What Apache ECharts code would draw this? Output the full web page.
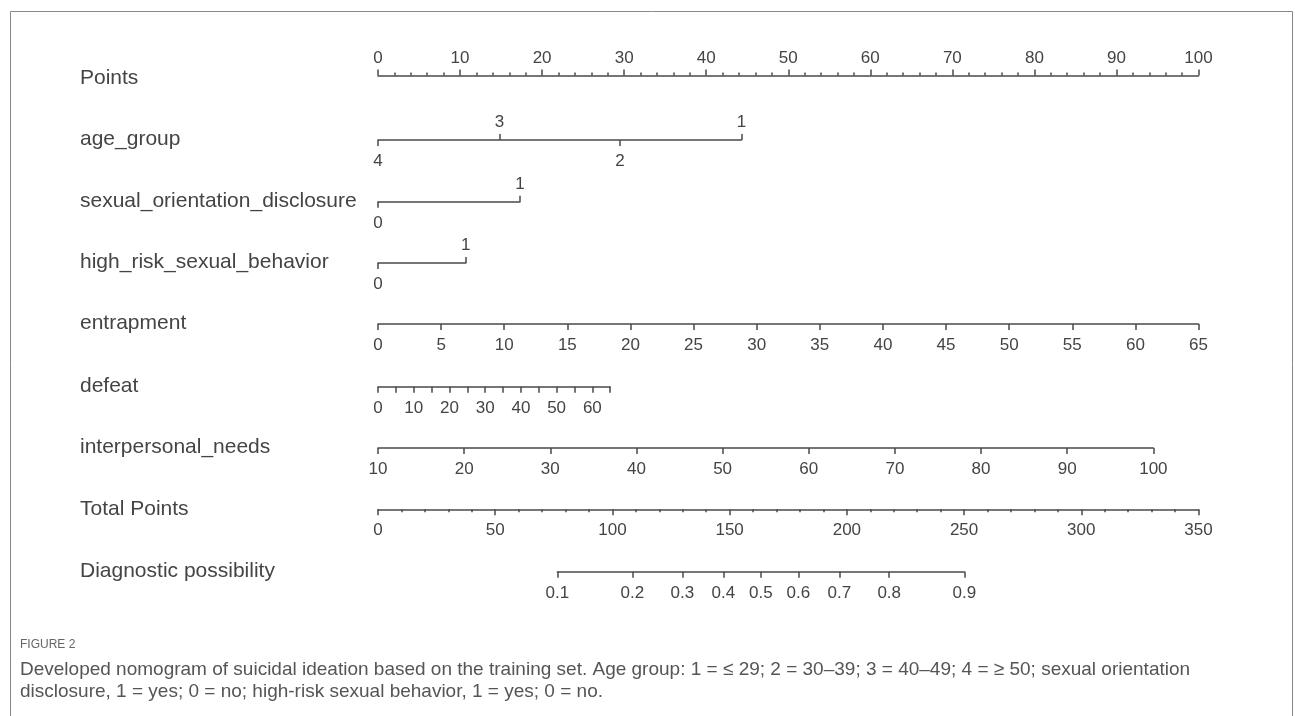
<!DOCTYPE html>
<html>
<head>
<meta charset="utf-8">
<script src="https://cdn.jsdelivr.net/npm/echarts@6/dist/echarts.min.js"></script>
<style>
  html, body { margin: 0; padding: 0; background: #fff; }
  #chart { width: 1295px; height: 716px; }
</style>
</head>
<body>
<div id="chart"></div>
<script>
// row names, top to bottom
var rowNames = ['Points', 'age_group', 'sexual_orientation_disclosure', 'high_risk_sexual_behavior',
    'entrapment', 'defeat', 'interpersonal_needs', 'Total Points', 'Diagnostic possibility'];

// categorical variables: label and its points
var ageLabels = ['4', '3', '2', '1'];
var agePoints = [0, 14.8, 29.5, 44.3];
var disclosureLabels = ['0', '1'];
var disclosurePoints = [0, 17.3];
var riskLabels = ['0', '1'];
var riskPoints = [0, 10.7];

// continuous variables: [min, max] and points reached at max
var entrapmentRange = [0, 65];
var entrapmentMaxPoints = 100;
var defeatRange = [0, 65];
var defeatMaxPoints = 28.3;
var defeatLabels = [0, 10, 20, 30, 40, 50, 60];
var needsRange = [10, 100];
var needsMaxPoints = 94.5;

var totalRange = [0, 350];
var probTicks = [0.1, 0.2, 0.3, 0.4, 0.5, 0.6, 0.7, 0.8, 0.9];
var probTotalPoints = [76.5, 250.1];   // total points at 0.1 and 0.9

// layout
var X0 = 378, X1 = 1198.5;
var rowY = [75.5, 140, 201.7, 263, 324, 386.7, 448, 509.3, 571.7];
var lineColor = '#4a4a4a';
var textColor = '#444';
var font = 'Liberation Sans, Arial, sans-serif';

function ptsX(p) { return X0 + p / 100 * (X1 - X0); }
function totX(t) { return X0 + t / totalRange[1] * (X1 - X0); }
function logit(p) { return Math.log(p / (1 - p)); }

var grids = [], xAxes = [], yAxes = [];

function addGrid(x0, x1, y) {
    grids.push({ left: x0, width: x1 - x0, top: y, height: 0 });
    yAxes.push({ gridIndex: grids.length - 1, show: false });
    return grids.length - 1;
}

function axis(gi, o) {
    var a = {
        gridIndex: gi, type: 'value', position: o.position || 'bottom',
        min: o.min, max: o.max,
        splitLine: { show: false },
        axisLine: { show: o.line !== false, lineStyle: { color: lineColor, width: 1.5 } },
        axisTick: { show: true, inside: false, length: o.tickLen || 6, lineStyle: { color: lineColor, width: 1.5 } },
        axisLabel: { color: textColor, fontSize: 17, fontFamily: font, margin: o.margin || 13,
            showMinLabel: true, showMaxLabel: true }
    };
    if (o.interval) a.interval = o.interval;
    if (o.ticks) a.axisTick.customValues = o.ticks;
    if (o.labels) a.axisLabel.customValues = o.labels;
    if (o.formatter) a.axisLabel.formatter = o.formatter;
    if (o.minor) a.minorTick = { show: true, splitNumber: o.minor, length: 3, lineStyle: { color: lineColor, width: 1.5 } };
    xAxes.push(a);
}

// Points
var g = addGrid(ptsX(0), ptsX(100), rowY[0]);
axis(g, { position: 'top', min: 0, max: 100, interval: 10, minor: 5, margin: 9 });

// categorical rows: labels alternate above / below
function catRow(row, labels, points) {
    var gi = addGrid(ptsX(0), ptsX(Math.max.apply(null, points)), rowY[row]);
    var lo = Math.min.apply(null, points), hi = Math.max.apply(null, points);
    var top = [], bottom = [];
    var order = points.map(function (p, i) { return i; }).sort(function (a, b) { return points[a] - points[b]; });
    order.forEach(function (i, k) { (k % 2 === 0 ? bottom : top).push(points[i]); });
    var fmt = function (v) {
        for (var i = 0; i < points.length; i++) if (Math.abs(points[i] - v) < 1e-6) return labels[i];
        return '';
    };
    axis(gi, { position: 'top', min: lo, max: hi, ticks: top, labels: top, formatter: fmt, margin: 9 });
    axis(gi, { position: 'bottom', min: lo, max: hi, ticks: bottom, labels: bottom, formatter: fmt, line: false, margin: 13 });
}
catRow(1, ageLabels, agePoints);
catRow(2, disclosureLabels, disclosurePoints);
catRow(3, riskLabels, riskPoints);

// entrapment
g = addGrid(ptsX(0), ptsX(entrapmentMaxPoints), rowY[4]);
axis(g, { min: entrapmentRange[0], max: entrapmentRange[1], interval: 5 });

// defeat
g = addGrid(ptsX(0), ptsX(defeatMaxPoints), rowY[5]);
axis(g, { min: defeatRange[0], max: defeatRange[1], interval: 5, labels: defeatLabels });

// interpersonal_needs
g = addGrid(ptsX(0), ptsX(needsMaxPoints), rowY[6]);
axis(g, { min: needsRange[0], max: needsRange[1], interval: 10 });

// Total Points
g = addGrid(totX(0), totX(totalRange[1]), rowY[7]);
axis(g, { min: totalRange[0], max: totalRange[1], interval: 50, minor: 5 });

// Diagnostic possibility (logit scale)
g = addGrid(totX(probTotalPoints[0]), totX(probTotalPoints[1]), rowY[8]);
var probLogits = probTicks.map(logit);
axis(g, {
    min: logit(probTicks[0]), max: logit(probTicks[probTicks.length - 1]),
    ticks: probLogits, labels: probLogits,
    formatter: function (v) {
        for (var i = 0; i < probLogits.length; i++) if (Math.abs(probLogits[i] - v) < 1e-6) return String(probTicks[i]);
        return '';
    }
});

// row labels, frame and caption
var graphics = [{
    type: 'rect', shape: { x: 10.5, y: 11.5, width: 1282, height: 720 },
    style: { fill: 'none', stroke: '#888', lineWidth: 1 }, silent: true
}];
rowNames.forEach(function (name, i) {
    var y = i === 0 ? 80 : rowY[i] + 1;
    graphics.push({
        type: 'text', left: 80, top: y - 12,
        style: { text: name, fill: textColor, font: '21px ' + font }
    });
});
graphics.push({ type: 'text', left: 20, top: 639,
    style: { text: 'FIGURE 2', fill: '#666', font: '12px ' + font } });
graphics.push({ type: 'text', left: 20, top: 660,
    style: { text: 'Developed nomogram of suicidal ideation based on the training set. Age group: 1 = \u2264 29; 2 = 30\u201339; 3 = 40\u201349; 4 = \u2265 50; sexual orientation',
        fill: '#555', font: '19px ' + font } });
graphics.push({ type: 'text', left: 20, top: 682,
    style: { text: 'disclosure, 1 = yes; 0 = no; high-risk sexual behavior, 1 = yes; 0 = no.',
        fill: '#555', font: '19px ' + font } });

var chart = echarts.init(document.getElementById('chart'));
chart.setOption({
    animation: false,
    grid: grids,
    xAxis: xAxes,
    yAxis: yAxes,
    series: [],
    graphic: graphics
});
</script>
</body>
</html>
